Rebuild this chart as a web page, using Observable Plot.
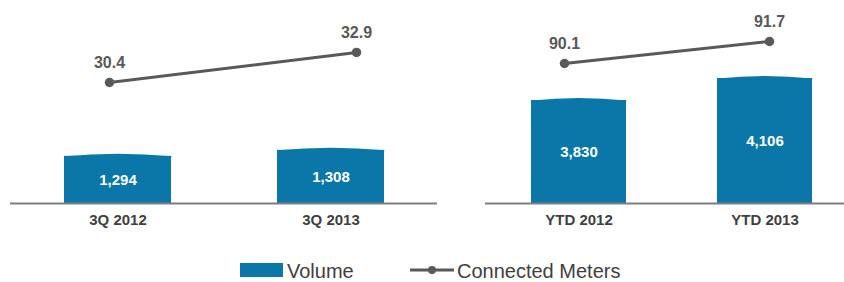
<!DOCTYPE html>
<html>
<head>
<meta charset="utf-8">
<script src="https://cdn.jsdelivr.net/npm/d3@7"></script>
<script src="https://cdn.jsdelivr.net/npm/@observablehq/plot@0.6"></script>
<style>
  html, body { margin: 0; padding: 0; background: #fff; }
  #chart { position: relative; width: 844px; height: 282px; overflow: hidden; font-family: "Liberation Sans", Arial, sans-serif; }
  #chart svg { position: absolute; left: 0; top: 0; }
  .legend-item { position: absolute; font-size: 20px; color: #404040; line-height: 20px; }
</style>
</head>
<body>
<div id="chart"></div>
<script>
// ---- data ----
const categoriesQ = ["3Q 2012", "3Q 2013"];
const volumeQ = [1294, 1308];
const metersQ = [30.4, 32.9];

const categoriesYTD = ["YTD 2012", "YTD 2013"];
const volumeYTD = [3830, 4106];
const metersYTD = [90.1, 91.7];

const seriesNames = ["Volume", "Connected Meters"];

// ---- styles ----
const BLUE = "#0A77A8";
const GRAY = "#595959";
const TEXT = "#3F3F3F";
const FONT = "'Liberation Sans', Arial, sans-serif";
const fmtVol = d3.format(",");
const fmtMet = d3.format(".1f");

const chart = document.getElementById("chart");
const svgStyle = {background: "transparent", overflow: "visible", fontFamily: FONT, maxWidth: "none"};

// convex cylinder-like cap drawn on top of each bar
const capSymbol = {
  draw(ctx, size) {
    const r = Math.sqrt(size / Math.PI);
    ctx.moveTo(-r, 1);
    ctx.lineTo(-r, 0);
    ctx.quadraticCurveTo(0, -5, r, 0);
    ctx.lineTo(r, 1);
    ctx.closePath();
  }
};

function barPanel(cats, vols, opts) {
  const rows = cats.map((c, i) => ({cat: c, value: vols[i], base: opts.yDomain[0]}));
  return Plot.plot({
    width: opts.width, height: 240,
    marginLeft: opts.marginLeft, marginRight: opts.marginRight,
    marginTop: 0, marginBottom: 37,
    style: svgStyle,
    x: {type: "band", domain: cats, paddingInner: opts.paddingInner, paddingOuter: opts.paddingOuter, align: opts.align, axis: null},
    y: {domain: opts.yDomain, axis: null},
    marks: [
      Plot.barY(rows, {x: "cat", y1: "base", y2: "value", fill: BLUE}),
      Plot.dot(rows, {x: "cat", y: "value", r: opts.capHalfWidth, symbol: capSymbol, fill: BLUE, stroke: "none"}),
      Plot.ruleY([opts.yDomain[0]], {stroke: "#7F7F7F", strokeWidth: 2}),
      Plot.text(rows, {x: "cat", y: d => (d.value + d.base) / 2, text: d => fmtVol(d.value), fill: "white", fontWeight: "bold", fontSize: 15}),
      Plot.text(rows, {x: "cat", frameAnchor: "bottom", dy: 21, text: "cat", fill: TEXT, fontWeight: "bold", fontSize: 15})
    ]
  });
}

function linePanel(cats, mets, opts) {
  const rows = cats.map((c, i) => ({cat: c, m: mets[i]}));
  return Plot.plot({
    width: 844, height: 240,
    marginLeft: 0, marginRight: 0, marginTop: 0, marginBottom: 37,
    style: svgStyle,
    x: {type: "point", domain: cats, range: opts.xRange, padding: 0, axis: null},
    y: {domain: opts.yDomain, axis: null},
    marks: [
      Plot.line(rows, {x: "cat", y: "m", stroke: GRAY, strokeWidth: 3}),
      Plot.dot(rows, {x: "cat", y: "m", r: 4.75, fill: GRAY}),
      Plot.text(rows, {x: "cat", y: "m", dy: -20, text: d => fmtMet(d.m), fill: GRAY, fontWeight: "bold", fontSize: 16})
    ]
  });
}

chart.append(barPanel(categoriesQ, volumeQ, {
  width: 440, marginLeft: 10, marginRight: 3,
  paddingInner: 0.5, paddingOuter: 0.25, align: 0.5,
  yDomain: [1184, 1657.7], capHalfWidth: 53.4
}));
chart.append(barPanel(categoriesYTD, volumeYTD, {
  width: 844, marginLeft: 485, marginRight: 0,
  paddingInner: 0.49, paddingOuter: 0.21, align: 0.59,
  yDomain: [2538, 5085], capHalfWidth: 47.4
}));
chart.append(linePanel(categoriesQ, metersQ, {xRange: [109, 356], yDomain: [20.32, 37.23]}));
chart.append(linePanel(categoriesYTD, metersYTD, {xRange: [564, 769], yDomain: [79.92, 94.68]}));

// ---- legend ----
const sw1 = document.createElement("div");
Object.assign(sw1.style, {position: "absolute", left: "240px", top: "263px", width: "43px", height: "14px", background: BLUE});
chart.append(sw1);
const l1 = document.createElement("div");
l1.className = "legend-item";
l1.textContent = seriesNames[0];
Object.assign(l1.style, {left: "287px", top: "261px"});
chart.append(l1);

const sw2 = d3.create("svg").attr("width", 44).attr("height", 12)
  .style("left", "410px").style("top", "264px");
sw2.append("line").attr("x1", 0).attr("x2", 44).attr("y1", 6).attr("y2", 6).attr("stroke", GRAY).attr("stroke-width", 3);
sw2.append("circle").attr("cx", 22).attr("cy", 6).attr("r", 4).attr("fill", GRAY);
chart.append(sw2.node());
const l2 = document.createElement("div");
l2.className = "legend-item";
l2.textContent = seriesNames[1];
Object.assign(l2.style, {left: "457px", top: "261px"});
chart.append(l2);
</script>
</body>
</html>
